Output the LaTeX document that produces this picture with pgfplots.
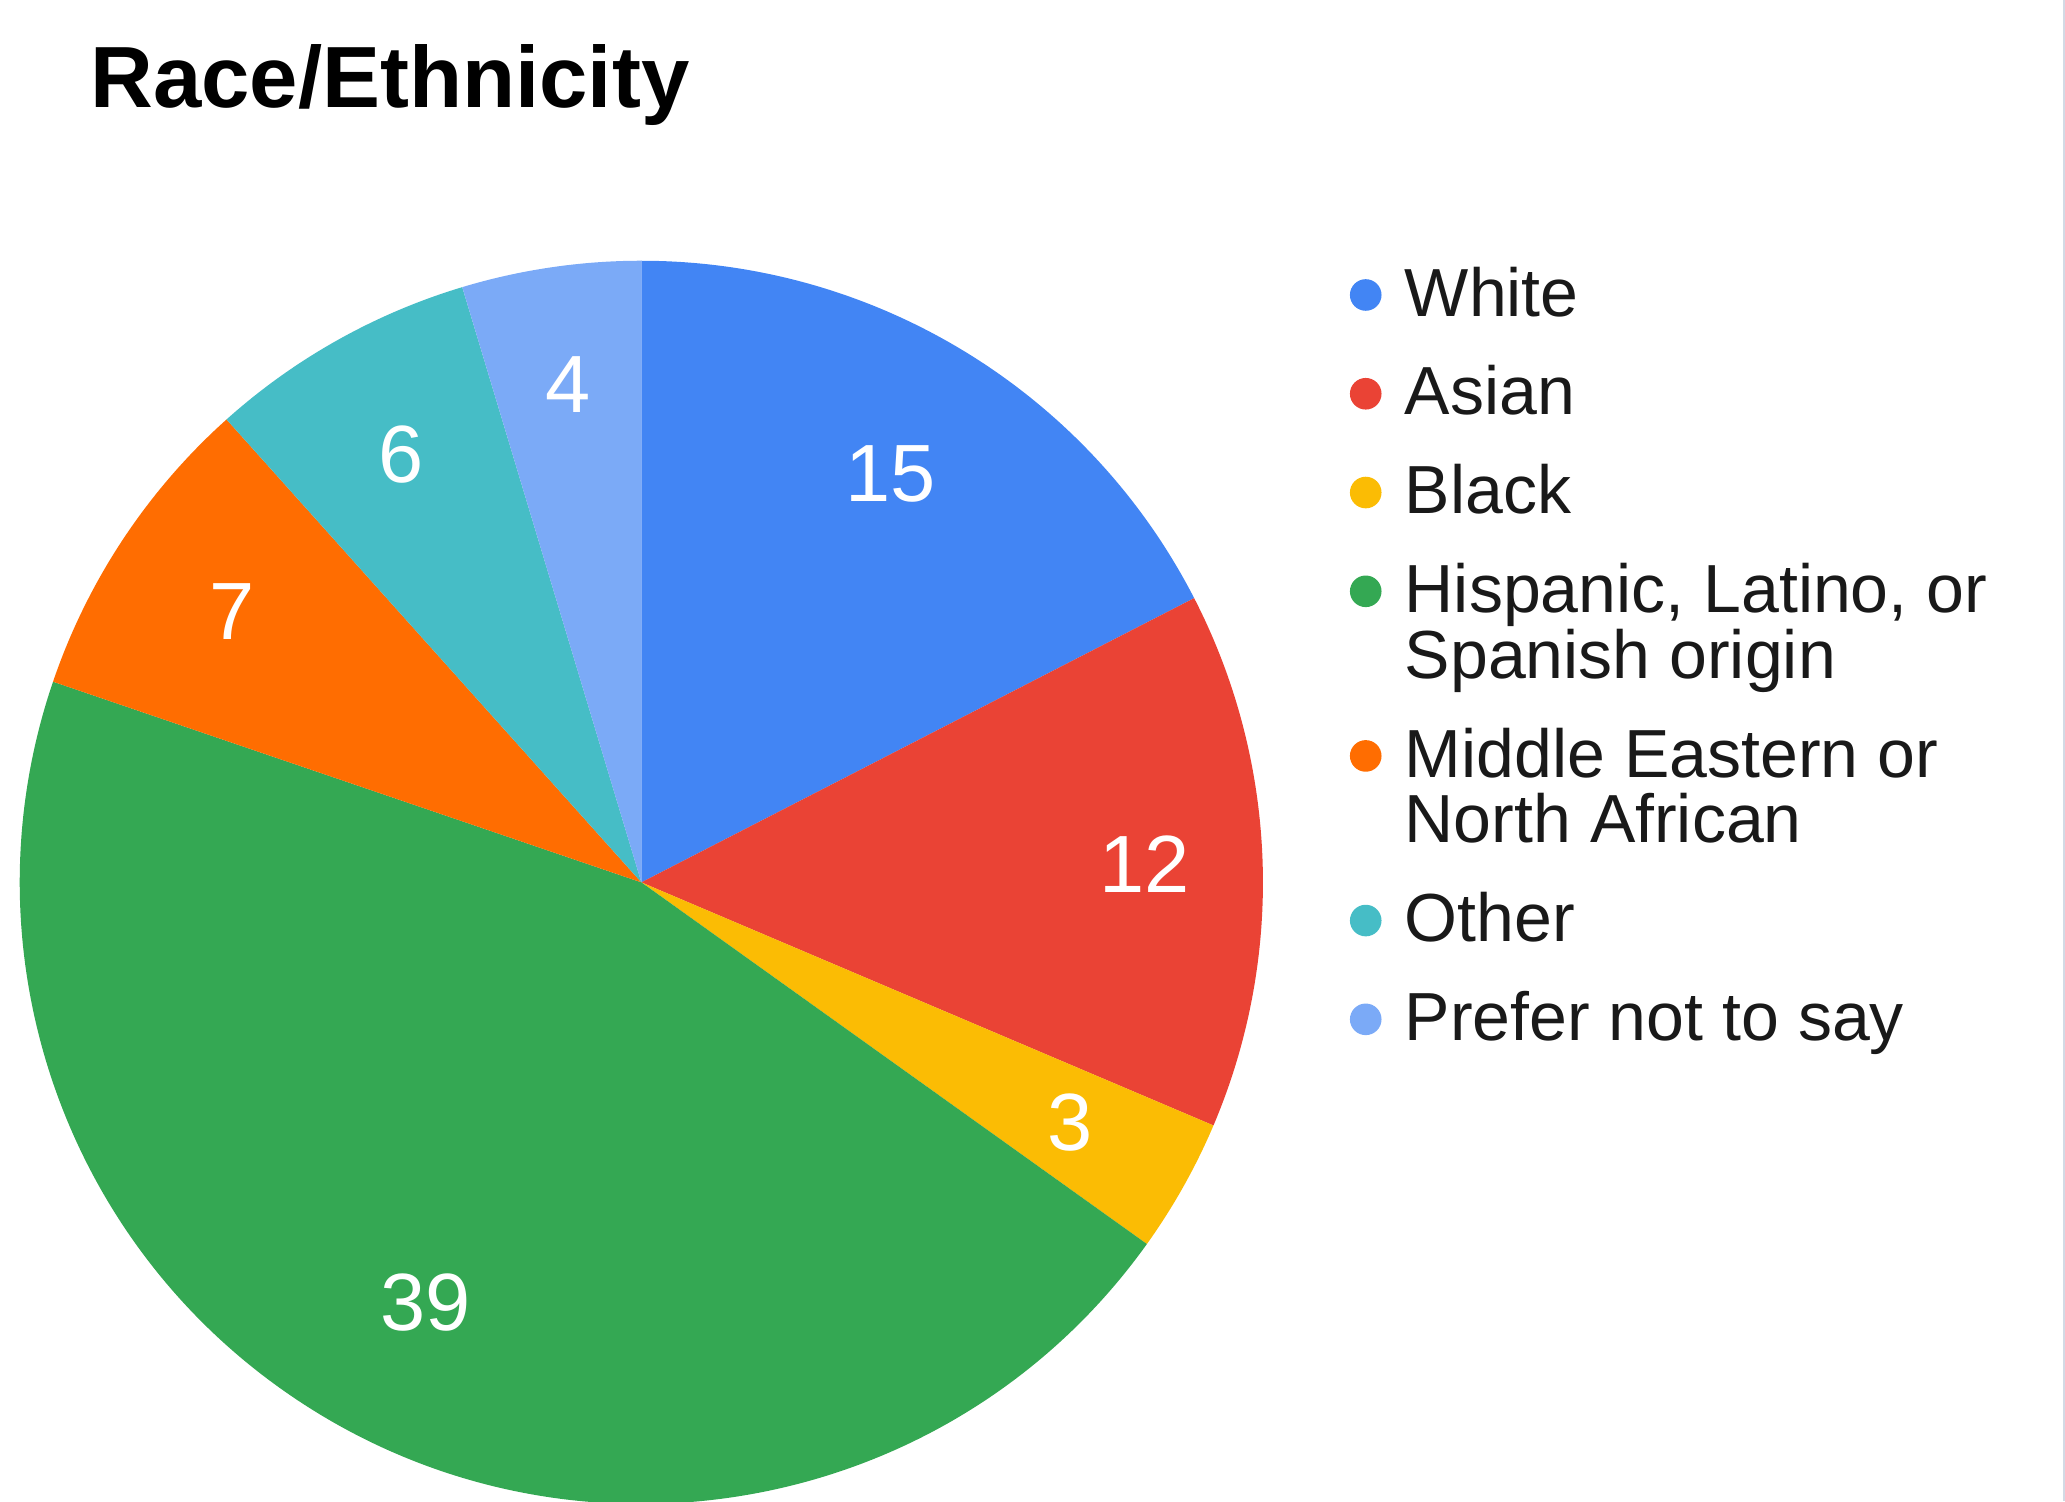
\documentclass[border=0pt]{standalone}
\usepackage{pgfplots}
\pgfplotsset{compat=1.18}
\usepackage{fontspec}
\setmainfont{Liberation Sans}
\definecolor{cWhite}{HTML}{4285F4}
\definecolor{cAsian}{HTML}{EA4335}
\definecolor{cBlack}{HTML}{FBBC04}
\definecolor{cHisp}{HTML}{34A853}
\definecolor{cMid}{HTML}{FF6D01}
\definecolor{cOther}{HTML}{46BDC6}
\definecolor{cPref}{HTML}{7BAAF7}
\definecolor{cEdge}{HTML}{D3DAE5}
% #1 cumulative start, #2 value, #3 colour ; total = 86
\newcommand\pieslice[3]{%
  \fill[#3] (axis cs:0,0) -- (axis cs:{cos(90-(#1)/86*360)},{sin(90-(#1)/86*360)})
    arc[start angle={90-(#1)/86*360}, end angle={90-(#1+#2)/86*360}, radius=1] -- cycle;
}
% #1 cumulative start, #2 value, #3 radius factor
\newcommand\pielabel[3]{%
  \node[white,inner sep=0pt,font=\fontsize{18.5}{22}\selectfont] at
    (axis cs:{#3*cos(90-(#1+#2/2)/86*360)},{#3*sin(90-(#1+#2/2)/86*360)}) {#2};
}
\begin{document}
\begin{tikzpicture}
\useasboundingbox (0,0) rectangle (470.4pt,342pt);
\begin{axis}[at={(146.1pt,141pt)}, anchor=center, scale only axis,
  width=283.2pt, height=283.2pt, xmin=-1, xmax=1, ymin=-1, ymax=1,
  hide axis, clip=false, disabledatascaling]
  \pieslice{0}{15}{cWhite}
  \pieslice{15}{12}{cAsian}
  \pieslice{27}{3}{cBlack}
  \pieslice{30}{39}{cHisp}
  \pieslice{69}{7}{cMid}
  \pieslice{76}{6}{cOther}
  \pieslice{82}{4}{cPref}
  \pielabel{0}{15}{0.77}
  \pielabel{15}{12}{0.81}
  \pielabel{27}{3}{0.79}
  \pielabel{30}{39}{0.76}
  \pielabel{69}{7}{0.79}
  \pielabel{76}{6}{0.79}
  \pielabel{82}{4}{0.81}
\end{axis}
\fill[cEdge] (470.0pt,0pt) rectangle (470.4pt,342pt);
\begin{scope}[x=0.3pt,y=-0.3pt,shift={(0pt,342pt)}]
\node[anchor=base west, inner sep=0pt, font=\bfseries\fontsize{19.8}{24}\selectfont] at (68,82) {Race/Ethnicity};
\begin{scope}[every node/.style={anchor=base west, inner sep=0pt, font=\fontsize{15.5}{18}\selectfont, text=black!90}]
  \fill[cWhite] (1037,224) circle[radius=3.6pt];
  \node at (1066,240) {White};
  \fill[cAsian] (1037,299) circle[radius=3.6pt];
  \node at (1066,315) {Asian};
  \fill[cBlack] (1037,374) circle[radius=3.6pt];
  \node at (1066,390) {Black};
  \fill[cHisp] (1037,449) circle[radius=3.6pt];
  \node at (1066,465) {Hispanic, Latino, or};
  \node at (1066,515) {Spanish origin};
  \fill[cMid] (1037,574) circle[radius=3.6pt];
  \node at (1066,590) {Middle Eastern or};
  \node at (1066,640) {North African};
  \fill[cOther] (1037,699) circle[radius=3.6pt];
  \node at (1066,715) {Other};
  \fill[cPref] (1037,774) circle[radius=3.6pt];
  \node at (1066,790) {Prefer not to say};
\end{scope}
\end{scope}
\end{tikzpicture}
\end{document}
